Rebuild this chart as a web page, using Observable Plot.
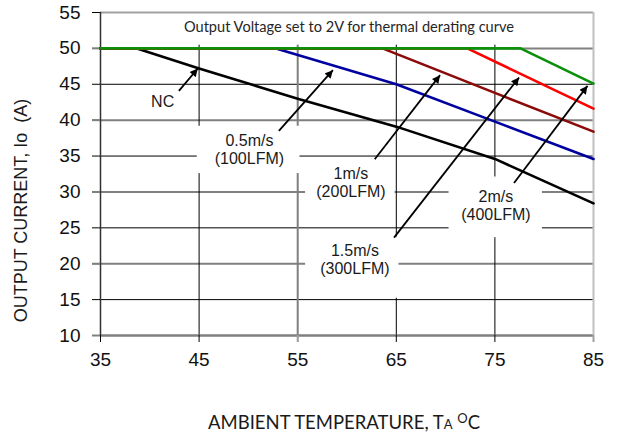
<!DOCTYPE html>
<html><head><meta charset="utf-8">
<script src="https://cdn.jsdelivr.net/npm/d3@7"></script>
<script src="https://cdn.jsdelivr.net/npm/@observablehq/plot@0.6"></script>
<style>
body{margin:0;background:#fff;}
#wrap{position:relative;width:617px;height:439px;overflow:hidden;}
#xlabel{position:absolute;left:208px;top:413px;font-family:Lato,sans-serif;font-size:18.5px;color:#1a1a1a;line-height:18.5px;white-space:nowrap;}
#xlabel .sub{font-size:13px;}
#xlabel .sup{font-size:13px;position:relative;top:-6px;}
</style></head><body>
<div id="wrap"><div id="chart"></div><div id="xlabel">AMBIENT TEMPERATURE, T<span class="sub">A</span> <span class="sup">O</span>C</div></div>
<script>
// ---- data ----
const xTicks = [35, 45, 55, 65, 75, 85];
const yTicks = [10, 15, 20, 25, 30, 35, 40, 45, 50, 55];
const seriesNames = ["NC", "0.5m/s", "1m/s", "1.5m/s", "2m/s"];
const seriesColors = ["#000000", "#0000a0", "#8b0a0a", "#ff0000", "#0a900a"];
const ncT  = [35, 38.7, 45, 55, 65, 75, 85];
const ncI  = [50, 50, 47.2, 43.0, 39.1, 34.6, 28.4];
const s05T = [35, 52.8, 65, 75, 85];
const s05I = [50, 50, 45, 39.8, 34.6];
const s1T  = [35, 63.6, 75, 85];
const s1I  = [50, 50, 43.8, 38.4];
const s15T = [35, 72.2, 85];
const s15I = [50, 50, 41.6];
const s2T  = [35, 77.6, 85];
const s2I  = [50, 50, 45.1];
const titleText = "Output Voltage set to 2V for thermal derating curve";
const yLabel = "OUTPUT CURRENT, Io\u00a0 (A)";
const labelTexts = ["NC", "0.5m/s\n(100LFM)", "1m/s\n(200LFM)", "1.5m/s\n(300LFM)", "2m/s\n(400LFM)"];
const labelT = [41.3, 50.1, 60.4, 60.8, 75.1];
const labelI = [42.6, 36.0, 31.4, 20.6, 28.1];
const arrowT1 = [42.95, 53.09, 62.81, 64.77, 76.94];
const arrowI1 = [44.08, 38.50, 34.55, 23.63, 31.24];
const arrowT2 = [44.87, 58.57, 69.44, 77.45, 84.39];
const arrowI2 = [47.20, 46.97, 46.27, 45.95, 44.78];
// white label backgrounds (title band + annotation boxes)
const boxT1 = [35, 44.81, 55.80, 55.80, 70.35];
const boxT2 = [85, 55.23, 64.87, 65.27, 79.82];
const boxI1 = [50.45, 32.56, 28.13, 15.19, 23.63];
const boxI2 = [55, 39.15, 34.41, 23.71, 32.08];

// ---- tables ----
const allT = [ncT, s05T, s1T, s15T, s2T];
const allI = [ncI, s05I, s1I, s15I, s2I];
const lines = seriesNames.flatMap((name, k) => allT[k].map((t, i) => ({name, t, v: allI[k][i], k})));
const labels = labelTexts.map((text, i) => ({text, t: labelT[i], v: labelI[i]}));
const arrows = arrowT1.map((t1, i) => ({t1, v1: arrowI1[i], t2: arrowT2[i], v2: arrowI2[i]}));
const boxes = boxT1.map((t1, i) => ({t1, t2: boxT2[i], v1: boxI1[i], v2: boxI2[i]}));
const grayY = yTicks.filter(d => d % 10 === 0);
const blackY = yTicks.filter(d => d % 10 !== 0);
const innerX = xTicks.slice(1, -1);
const grayX = [55];

const font = "Liberation Sans, Arial, sans-serif";
const chart = Plot.plot({
  width: 617, height: 392,
  marginLeft: 100, marginRight: 24, marginTop: 12, marginBottom: 57,
  style: {fontFamily: font, background: "#fff", color: "#111"},
  x: {domain: [35, 85], ticks: xTicks},
  y: {domain: [10, 55], ticks: yTicks},
  marks: [
    // gridlines
    Plot.ruleY(blackY, {stroke: "#000", strokeWidth: 1}),
    Plot.ruleY(grayY, {stroke: "#808080", strokeWidth: 2}),
    Plot.ruleX(innerX.filter(d => !grayX.includes(d)), {stroke: "#000", strokeWidth: 1}),
    Plot.ruleX(grayX, {stroke: "#808080", strokeWidth: 2}),
    // white backgrounds
    Plot.rect(boxes, {x1: "t1", x2: "t2", y1: "v1", y2: "v2", fill: "#fff"}),
    // frame
    Plot.ruleY([55], {stroke: "#a0a0a0", strokeWidth: 2}),
    Plot.ruleY([10], {stroke: "#808080", strokeWidth: 2}),
    Plot.ruleX([85], {stroke: "#c0c0c0", strokeWidth: 2}),
    Plot.ruleX([35], {stroke: "#303030", strokeWidth: 1.5}),
    // axes
    Plot.axisY(yTicks, {tickSize: 8, tickPadding: 12, fontSize: 19, label: null, stroke: "#000"}),
    Plot.axisY(grayY, {tickSize: 8, tickFormat: () => "", label: null, stroke: "#808080", strokeWidth: 2}),
    Plot.axisX(xTicks, {tickSize: 7, tickPadding: 10, fontSize: 19, label: null, stroke: "#000"}),
    Plot.axisX([55, 85], {tickSize: 7, tickFormat: () => "", label: null, stroke: "#a0a0a0", strokeWidth: 2}),
    // data
    Plot.line(lines, {x: "t", y: "v", z: "name", stroke: d => seriesColors[d.k], strokeWidth: 2.6}),
    // arrows
    Plot.link(arrows, {x1: "t1", y1: "v1", x2: "t2", y2: "v2", stroke: "#000", strokeWidth: 1.8, className: "ann-arrow"}),
    // annotation text
    Plot.text(labels, {x: "t", y: "v", text: "text", fontSize: 16, lineHeight: 1.12, fill: "#1a1a1a", fontFamily: font}),
    Plot.text([titleText], {frameAnchor: "top", textAnchor: "middle", dy: 9.5, dx: 2, fontSize: 14.6, fontFamily: "Lato, sans-serif", fill: "#262626"}),
    Plot.text([yLabel], {frameAnchor: "left", textAnchor: "middle", lineAnchor: "middle", dx: -79, dy: 36.5, rotate: -90, fontSize: 18, fill: "#1a1a1a", fontFamily: font})
  ]
});
document.getElementById("chart").appendChild(chart);
const svg = d3.select(chart);
svg.append("defs").html('<marker id="ah" viewBox="0 0 10 10" refX="10" refY="5" markerWidth="9" markerHeight="8" markerUnits="userSpaceOnUse" orient="auto"><path d="M0,0L10,5L0,10z" fill="#000"/></marker>');
svg.selectAll(".ann-arrow path, .ann-arrow line").attr("marker-end", "url(#ah)");
</script>
</body></html>
